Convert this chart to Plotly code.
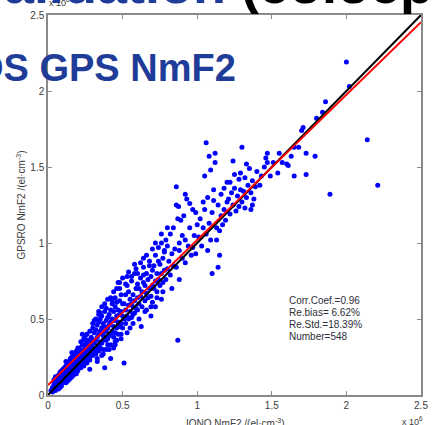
import plotly.graph_objects as go

# ---------------- data (units of 1e6 el/cm^3) ----------------
iono_a = [0.02,0.03,0.03,0.04,0.04,0.05,0.05,0.05,0.06,0.06,0.06,0.07,0.07,0.07,0.07,0.08,0.08,0.08,0.08,0.09,0.09,0.09,0.09,0.10,0.10,0.10,0.10,0.04,0.06,0.08,0.05,0.07,0.09]
gps_a  = [0.03,0.02,0.05,0.04,0.07,0.03,0.06,0.09,0.05,0.08,0.11,0.06,0.08,0.10,0.13,0.07,0.09,0.12,0.15,0.08,0.10,0.13,0.16,0.08,0.11,0.14,0.17,0.10,0.12,0.05,0.12,0.04,0.06]

iono_b = [0.11,0.11,0.11,0.11,0.12,0.12,0.12,0.12,0.12,0.13,0.13,0.13,0.13,0.14,0.14,0.14,0.14,0.14,0.15,0.15,0.15,0.15,0.16,0.16,0.16,0.16,0.16,0.17,0.17,0.17,0.17,0.18,0.18,0.18,0.18,0.18,0.19,0.19,0.19,0.19,0.20,0.20,0.20,0.20,0.20,0.13,0.15,0.17,0.19,0.12,0.16,0.18]
gps_b  = [0.09,0.12,0.15,0.18,0.10,0.13,0.16,0.19,0.08,0.11,0.14,0.17,0.21,0.12,0.15,0.18,0.22,0.10,0.13,0.16,0.20,0.24,0.14,0.17,0.21,0.25,0.12,0.15,0.19,0.23,0.27,0.14,0.18,0.21,0.26,0.16,0.17,0.20,0.24,0.29,0.16,0.19,0.22,0.27,0.31,0.09,0.11,0.13,0.14,0.22,0.28,0.24]

iono_c = [0.21,0.21,0.21,0.22,0.22,0.22,0.22,0.23,0.23,0.23,0.24,0.24,0.24,0.24,0.25,0.25,0.25,0.25,0.26,0.26,0.26,0.26,0.27,0.27,0.27,0.28,0.28,0.28,0.28,0.29,0.29,0.29,0.30,0.30,0.30,0.30,0.22,0.24,0.26,0.28,0.28,0.23,0.27,0.25]
gps_c  = [0.19,0.25,0.31,0.20,0.24,0.29,0.35,0.22,0.27,0.33,0.21,0.26,0.30,0.37,0.23,0.28,0.33,0.39,0.24,0.29,0.34,0.40,0.26,0.31,0.36,0.25,0.30,0.35,0.42,0.27,0.32,0.38,0.26,0.31,0.36,0.44,0.18,0.19,0.21,0.17,0.23,0.40,0.23,0.36]

iono_d = [0.31,0.31,0.31,0.32,0.32,0.32,0.32,0.33,0.33,0.33,0.34,0.34,0.34,0.34,0.35,0.35,0.35,0.35,0.36,0.36,0.36,0.37,0.37,0.37,0.37,0.38,0.38,0.38,0.39,0.39,0.39,0.39,0.40,0.40,0.40,0.40,0.33,0.36,0.38,0.35,0.31,0.34,0.39,0.37]
gps_d  = [0.28,0.34,0.41,0.30,0.36,0.43,0.27,0.31,0.38,0.46,0.33,0.40,0.48,0.29,0.35,0.42,0.50,0.31,0.34,0.44,0.52,0.36,0.41,0.47,0.30,0.38,0.45,0.55,0.36,0.42,0.49,0.57,0.37,0.44,0.51,0.33,0.24,0.26,0.18,0.54,0.49,0.55,0.30,0.39]

iono_e = [0.41,0.41,0.41,0.42,0.42,0.42,0.42,0.43,0.43,0.43,0.44,0.44,0.44,0.45,0.45,0.45,0.45,0.46,0.46,0.46,0.47,0.47,0.47,0.48,0.48,0.48,0.48,0.49,0.49,0.49,0.50,0.50,0.50,0.42,0.44,0.46,0.47,0.43,0.45,0.49]
gps_e  = [0.39,0.46,0.53,0.40,0.48,0.56,0.33,0.42,0.50,0.60,0.38,0.45,0.55,0.41,0.49,0.58,0.64,0.44,0.52,0.61,0.40,0.48,0.56,0.45,0.53,0.62,0.70,0.47,0.55,0.66,0.44,0.52,0.60,0.24,0.31,0.36,0.74,0.62,0.35,0.40]

iono_f = [0.51,0.51,0.52,0.52,0.52,0.53,0.53,0.54,0.54,0.54,0.55,0.55,0.56,0.56,0.56,0.57,0.57,0.58,0.58,0.58,0.59,0.59,0.60,0.60,0.60,0.51,0.55,0.57,0.53,0.59]
gps_f  = [0.50,0.60,0.47,0.56,0.66,0.52,0.72,0.50,0.59,0.68,0.55,0.63,0.51,0.60,0.75,0.58,0.66,0.54,0.62,0.80,0.57,0.70,0.56,0.64,0.73,0.21,0.44,0.47,0.78,0.83]

iono_g = [0.61,0.61,0.62,0.62,0.63,0.63,0.64,0.64,0.65,0.65,0.66,0.66,0.67,0.67,0.68,0.68,0.69,0.69,0.70,0.70,0.625,0.69,0.64,0.66,0.70]
gps_g  = [0.60,0.70,0.65,0.77,0.58,0.68,0.74,0.84,0.62,0.72,0.67,0.80,0.64,0.76,0.70,0.88,0.65,0.78,0.72,0.82,0.45,0.52,0.90,0.56,0.61]

iono_h = [0.71,0.71,0.72,0.72,0.73,0.73,0.74,0.74,0.75,0.75,0.76,0.76,0.77,0.77,0.78,0.78,0.79,0.79,0.80,0.80,0.72,0.76]
gps_h  = [0.70,0.85,0.75,0.92,0.68,0.80,0.76,0.97,0.72,0.86,0.80,1.00,0.74,0.90,0.82,0.95,0.76,1.02,0.83,0.98,0.58,0.63]

iono_i = [0.81,0.82,0.82,0.83,0.84,0.84,0.85,0.86,0.86,0.87,0.88,0.88,0.89,0.90,0.90,0.91,0.92,0.93,0.94,0.95,0.96,0.97,0.98,0.99,1.00,0.86,0.92,0.92,0.875,0.87,0.88,0.83,0.95,0.97,0.99]
gps_i  = [0.88,0.79,1.06,0.93,0.85,1.10,0.96,0.84,1.37,0.36,0.76,1.00,1.15,0.90,1.05,1.18,1.32,1.29,0.98,1.10,0.92,1.22,1.05,0.93,1.12,1.25,0.87,1.02,1.24,1.16,0.95,0.70,1.26,0.97,1.20]

iono_j = [1.01,1.02,1.03,1.04,1.05,1.05,1.06,1.06,1.07,1.08,1.08,1.09,1.09,1.10,1.10,1.11,1.12,1.12,1.13,1.14,1.14,1.15,1.16,1.16,1.17,1.18,1.18,1.19,1.20,1.20,1.11,1.13,1.15,1.04,1.07]
gps_j  = [1.04,1.16,0.98,1.10,1.44,1.22,1.66,1.06,1.30,1.57,1.13,1.48,1.02,1.20,0.80,1.28,1.59,1.53,1.10,0.84,1.25,0.92,1.18,1.32,1.12,1.36,1.22,1.15,1.40,1.27,1.35,1.02,1.08,1.27,0.95]

iono_k = [1.21,1.22,1.22,1.23,1.24,1.24,1.25,1.26,1.27,1.28,1.28,1.29,1.30,1.30,1.31,1.32,1.33,1.33,1.34,1.35,1.36,1.36,1.37,1.38,1.39,1.40,1.25,1.29,1.32,1.37]
gps_k  = [1.29,1.40,1.19,1.33,1.54,1.25,1.36,1.21,1.31,1.42,1.24,1.35,1.63,1.27,1.34,1.23,1.52,1.30,1.38,1.49,1.33,1.22,1.41,1.29,1.37,1.47,1.45,1.46,1.43,1.25]

iono_l = [1.43,1.46,1.47,1.47,1.49,1.51,1.54,1.55,1.57,1.60,1.61,1.63,1.65,1.65,1.68,1.70,1.71,1.73,1.73,1.79,1.80,1.84,1.86,1.89,2.00,2.02,2.14,2.21,1.42,1.45]
gps_l  = [1.44,1.56,1.59,1.53,1.44,1.53,1.46,1.59,1.53,1.52,1.51,1.57,1.63,1.44,1.63,1.74,1.76,1.59,1.45,1.57,1.82,1.86,1.93,1.32,2.19,2.03,1.68,1.38,1.38,1.50]

iono_m = [0.30,0.32,0.34,0.36,0.38,0.40,0.42,0.44,0.46,0.48,0.50,0.52,0.54,0.56,0.58,0.60,0.62,0.64,0.66,0.68,0.70,0.72,0.74,0.76,0.78,0.80,0.33,0.37,0.41,0.45,0.49,0.53,0.57,0.61,0.65,0.69,0.73,0.77]
gps_m  = [0.47,0.50,0.53,0.58,0.60,0.63,0.64,0.68,0.70,0.74,0.77,0.73,0.81,0.78,0.86,0.80,0.87,0.79,0.92,0.85,0.96,1.00,0.88,1.06,0.94,1.10,0.22,0.27,0.30,0.33,0.37,0.41,0.53,0.50,0.55,0.58,0.64,0.68]

iono_nmf2 = iono_a + iono_b + iono_c + iono_d + iono_e + iono_f + iono_g + iono_h + iono_i + iono_j + iono_k + iono_l + iono_m
gpsro_nmf2 = gps_a + gps_b + gps_c + gps_d + gps_e + gps_f + gps_g + gps_h + gps_i + gps_j + gps_k + gps_l + gps_m

fit_slope = 0.955
fit_intercept = 0.065
line_x = [0.0, 2.5]

tick_vals = [0, 0.5, 1, 1.5, 2, 2.5]
tick_text = ["0", "0.5", "1", "1.5", "2", "2.5"]

stats_lines = ["Corr.Coef.=0.96", "Re.bias= 6.62%", "Re.Std.=18.39%", "Number=548"]

# ---------------- figure ----------------
W, H = 434, 425
L, R, T, B = 48, 6, 15, 30
PW, PH = W - L - R, H - T - B

def px(p):
    return (p - L) / PW

def py(p):
    return (H - B - p) / PH

FONT = "Liberation Sans, Arial, sans-serif"
AX = "#8a8a8a"
TXT = "#3c3c3c"

fig = go.Figure()
fig.add_trace(go.Scatter(x=iono_nmf2, y=gpsro_nmf2, mode="markers",
                         marker=dict(color="#0000ff", size=5, line=dict(width=0)),
                         showlegend=False, hoverinfo="skip"))
fig.add_trace(go.Scatter(x=line_x, y=line_x, mode="lines",
                         line=dict(color="#000000", width=2), showlegend=False))
fig.add_trace(go.Scatter(x=line_x, y=[fit_intercept + fit_slope * v for v in line_x], mode="lines",
                         line=dict(color="#ff0000", width=2), showlegend=False))

axis_common = dict(range=[0, 2.5], tickvals=tick_vals, ticktext=tick_text,
                   showline=True, linecolor=AX, linewidth=1.5, mirror="ticks",
                   ticks="inside", ticklen=4, tickcolor=AX, tickwidth=1,
                   showgrid=False, zeroline=False,
                   tickfont=dict(family=FONT, size=10, color=TXT))

fig.update_layout(
    width=W, height=H,
    margin=dict(l=L, r=R, t=T, b=B, pad=0),
    paper_bgcolor="white", plot_bgcolor="white",
    xaxis=axis_common, yaxis=axis_common,
    font=dict(family=FONT, color=TXT),
)

ann = []
# axis titles
ann.append(dict(text="IONO NmF2 /(el·cm<sup>-3</sup>)", x=0.5, y=py(415), xref="paper", yref="paper",
                xanchor="center", yanchor="top", showarrow=False,
                font=dict(family=FONT, size=10, color=TXT)))
ann.append(dict(text="GPSRO NmF2 /(el·cm<sup>-3</sup>)", x=px(20), y=0.5, xref="paper", yref="paper",
                xanchor="center", yanchor="middle", textangle=-90, showarrow=False,
                font=dict(family=FONT, size=10, color=TXT)))
# exponent labels
ann.append(dict(text="x 10<sup>6</sup>", x=px(432), y=py(413), xref="paper", yref="paper",
                xanchor="right", yanchor="top", showarrow=False,
                font=dict(family=FONT, size=9, color=TXT)))
ann.append(dict(text="x 10<sup>6</sup>", x=px(47), y=py(10), xref="paper", yref="paper",
                xanchor="left", yanchor="bottom", showarrow=False,
                font=dict(family=FONT, size=9, color=TXT)))
# stats
for i, s in enumerate(stats_lines):
    ann.append(dict(text=s, x=px(291), y=py(300 + 12 * i), xref="paper", yref="paper",
                    xanchor="left", yanchor="middle", showarrow=False,
                    font=dict(family=FONT, size=10, color="#2e2e3a")))
# slide text overlays
ann.append(dict(text="OS GPS NmF2", x=px(-29), y=py(91), xref="paper", yref="paper",
                xanchor="left", yanchor="bottom", showarrow=False,
                font=dict(family=FONT, size=38, color="#1f3c99", weight="bold")))
ann.append(dict(text="<span style='color:#1f3c99'>Validation</span> (colocp", x=px(442), y=py(16),
                xref="paper", yref="paper", xanchor="right", yanchor="bottom", showarrow=False,
                font=dict(family=FONT, size=54, color="#000000", weight="bold")))

fig.update_layout(annotations=ann)
fig.write_html("out.html")
